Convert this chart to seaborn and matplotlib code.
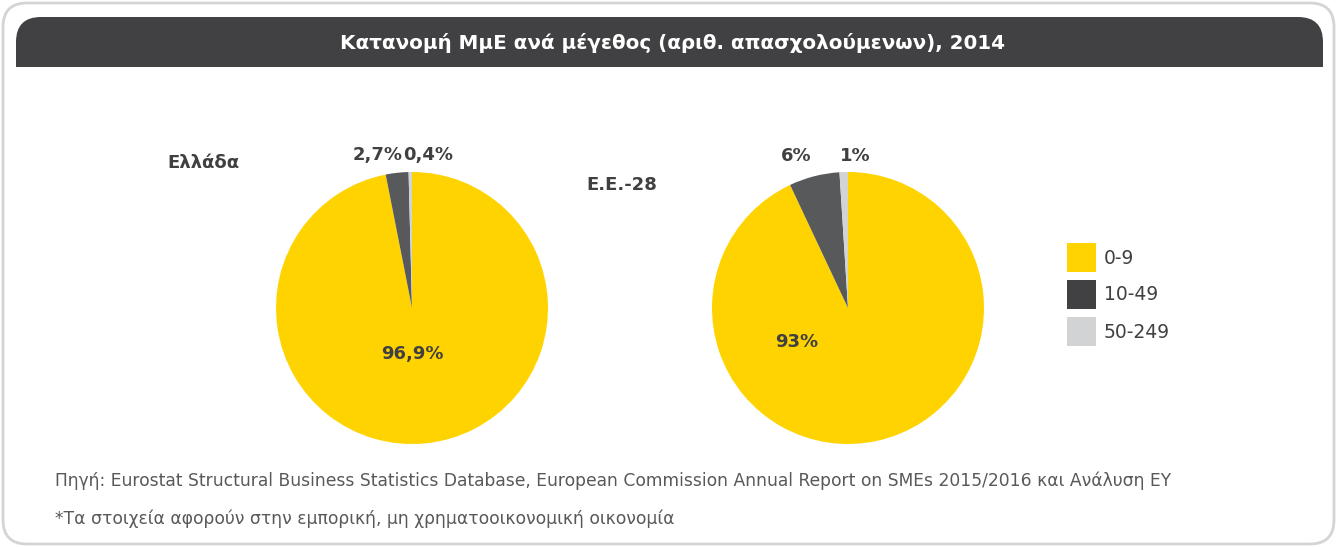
import matplotlib
matplotlib.use("Agg")
import matplotlib.pyplot as plt
import seaborn as sns
from matplotlib.patches import FancyBboxPatch, Rectangle

# Δεδομένα
title = "Κατανομή ΜμΕ ανά μέγεθος (αριθ. απασχολούμενων), 2014"
size_classes = ["0-9", "10-49", "50-249"]
greece_values = [96.9, 2.7, 0.4]
eu_values = [93, 6, 1]
greece_labels = ["96,9%", "2,7%", "0,4%"]
eu_labels = ["93%", "6%", "1%"]
region_names = ["Ελλάδα", "Ε.Ε.-28"]
source_note = ("Πηγή: Eurostat Structural Business Statistics Database, European Commission "
               "Annual Report on SMEs 2015/2016 και Ανάλυση ΕΥ")
footnote = "*Τα στοιχεία αφορούν στην εμπορική, μη χρηματοοικονομική οικονομία"

sns.set_theme(style="white")
plt.rcParams["font.family"] = ["DejaVu Sans"]

pie_colors = sns.color_palette(["#FFD300", "#58595B", "#D1D3D4"])
legend_colors = sns.color_palette(["#FFD300", "#414042", "#D1D3D4"])
text_dark = "#404041"

W, H = 1337, 547
fig = plt.figure(figsize=(W / 100, H / 100), dpi=100)

# fundo em pixels
bg = fig.add_axes([0, 0, 1, 1])
bg.set_xlim(0, W)
bg.set_ylim(H, 0)
bg.axis("off")

bg.add_patch(FancyBboxPatch((3, 3), W - 6, H - 6,
                            boxstyle="round,pad=0,rounding_size=24",
                            fc="white", ec="#D4D4D4", lw=2))
bg.add_patch(FancyBboxPatch((16, 17), 1307, 50,
                            boxstyle="round,pad=0,rounding_size=25",
                            fc="#414042", ec="none"))
bg.add_patch(Rectangle((16, 42), 1307, 25, fc="#414042", ec="none"))
bg.text(672, 43, title, color="white", fontsize=14.3, fontweight="bold",
        ha="center", va="center")

bg.text(55, 481, source_note, color="#58595B", fontsize=12.3, ha="left", va="center")
bg.text(55, 519, footnote, color="#58595B", fontsize=12.3, ha="left", va="center")


def draw_pie(cx, cy, r, values, labels, name, name_xy, small_pos, big_pos):
    ax = fig.add_axes([(cx - r) / W, (H - cy - r) / H, 2 * r / W, 2 * r / H])
    ax.pie(values, colors=pie_colors, startangle=90, counterclock=False,
           wedgeprops=dict(linewidth=0))
    ax.set_xlim(-1, 1)
    ax.set_ylim(-1, 1)
    ax.text(big_pos[0], big_pos[1], labels[0], color=text_dark, fontsize=13,
            fontweight="bold", ha="center", va="center")
    for lab, (x, y) in zip(labels[1:], small_pos):
        ax.text(x, y, lab, color=text_dark, fontsize=13, fontweight="bold",
                ha="center", va="center", clip_on=False)
    bg.text(name_xy[0], name_xy[1], name, color=text_dark, fontsize=13,
            fontweight="bold", ha="center", va="center")


draw_pie(412, 308, 136, greece_values, greece_labels, region_names[0], (203, 163),
         [(-0.25, 1.125), (0.12, 1.125)], (0.0, -0.34))
draw_pie(848, 308, 136, eu_values, eu_labels, region_names[1], (622, 185),
         [(-0.38, 1.12), (0.05, 1.12)], (-0.375, -0.25))

# υπόμνημα
for i, (lab, c) in enumerate(zip(size_classes, legend_colors)):
    top = 243 + i * 37
    bg.add_patch(Rectangle((1067, top), 29, 29, fc=c, ec="none"))
    bg.text(1104, top + 15, lab, color=text_dark, fontsize=13.5,
            ha="left", va="center")

fig.savefig("out.png", dpi=100)
